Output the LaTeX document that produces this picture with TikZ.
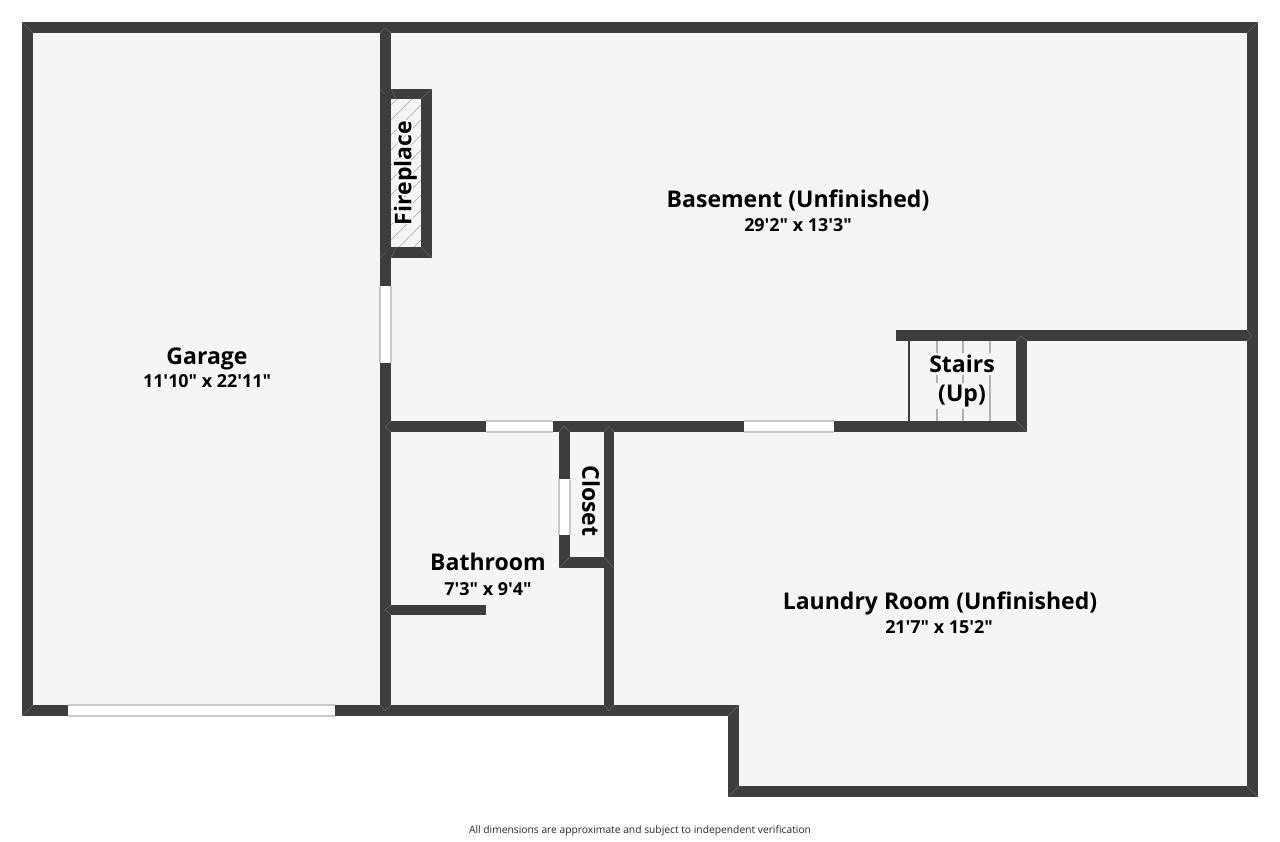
\documentclass[tikz,border=0pt]{standalone}
\usepackage{fontspec}
\usepackage{contour}
\contourlength{0.7pt}
\newfontfamily\planfont{Open Sans}
\definecolor{wallgray}{HTML}{3D3D3D}
\definecolor{seamgray}{HTML}{666666}
\definecolor{floorgray}{HTML}{F5F5F5}
\definecolor{edgegray}{HTML}{C8C8C8}
\tikzset{
  wall/.style={fill=wallgray},
  pane/.style={fill=white},
  paneedge/.style={edgegray, line width=0.7pt},
  seam/.style={seamgray, line width=0.3pt},
  roomname/.style={font=\planfont\bfseries\fontsize{13.1}{16}\selectfont, text=black},
  roomsize/.style={font=\planfont\bfseries\fontsize{10.2}{12}\selectfont, text=black},
}
\begin{document}
\begin{tikzpicture}[x=0.02cm, y=-0.02cm]
        \useasboundingbox (0,0) rectangle (1280,841);
        % Shade the floor
        \fill [floorgray] (22,22) -- (1258,22) -- (1258,797) -- (728,797) -- (728,716) -- (22,716) -- cycle;
        % Hatch of the fireplace
        \begin{scope}
            \clip (391,99) rectangle (421,247);
            \foreach \y in {105,120,...,285}
                \draw [gray!70, line width=0.35pt] (391,\y) -- (421,\y-30);
        \end{scope}
        % Stair treads
        \draw [gray!60, line width=0.9pt] (937,341) -- (937,421);
        \draw [gray!60, line width=0.9pt] (963,341) -- (963,421);
        \draw [gray!60, line width=0.9pt] (990,341) -- (990,421);
        \draw [wallgray, line width=0.9pt] (909,341) -- (909,421);
        % Outer walls
        \fill [wall] (22,22) rectangle (1258,33);
        \fill [wall] (22,22) rectangle (33,716);
        \fill [wall] (1247,22) rectangle (1258,797);
        \fill [wall] (22,705) rectangle (739,716);
        \fill [wall] (728,705) rectangle (739,797);
        \fill [wall] (728,786) rectangle (1258,797);
        % Inner walls
        \fill [wall] (380,22) rectangle (391,716);
        \fill [wall] (385,421) rectangle (1027,432);
        \fill [wall] (896,330) rectangle (1258,341);
        \fill [wall] (1016,330) rectangle (1027,432);
        \fill [wall] (559,421) rectangle (570,568);
        \fill [wall] (559,557) rectangle (614,568);
        \fill [wall] (604,421) rectangle (614,716);
        \fill [wall] (385,605) rectangle (486,615);
        % Fireplace walls
        \fill [wall] (385,89) rectangle (432,99);
        \fill [wall] (385,247) rectangle (432,258);
        \fill [wall] (421,89) rectangle (432,258);
        % Windows
        \foreach \xa/\ya/\xb/\yb in {68/705/335/716, 486/421/553/432, 744/421/834/432}{
            \fill [pane] (\xa,\ya) rectangle (\xb,\yb);
            \draw [paneedge] (\xa,\ya) -- (\xb,\ya);
            \draw [paneedge] (\xa,\yb) -- (\xb,\yb);
        }
        \foreach \xa/\ya/\xb/\yb in {380/286/391/363, 559/479/570/535}{
            \fill [pane] (\xa,\ya) rectangle (\xb,\yb);
            \draw [paneedge] (\xa,\ya) -- (\xa,\yb);
            \draw [paneedge] (\xb,\ya) -- (\xb,\yb);
        }
        % Corner seams
        \foreach \xa/\ya/\xb/\yb in {22/22/33/33, 1258/22/1247/33, 22/716/33/705, 1258/797/1247/786, 728/797/739/786, 739/705/728/716,
            380/33/385/28, 391/33/385/28, 380/705/385/711, 391/705/385/711, 391/421/385/427, 391/432/385/427, 604/705/609/711, 614/705/609/711,
            559/432/564/426, 570/432/564/426, 604/432/609/426, 614/432/609/426, 1016/341/1021/336, 1027/341/1021/336, 1016/421/1027/432,
            1247/330/1252/336, 1247/341/1252/336, 559/568/570/557, 604/557/614/568, 391/89/396/99, 391/258/396/247, 432/89/421/99, 432/258/421/247,
            380/89/385/94, 380/258/385/253, 391/605/385/610, 391/615/385/610}
            \draw [seam] (\xa,\ya) -- (\xb,\yb);
        % Labels
        \node [roomname] (garage) at (207,359) {Garage};
        \node [roomsize] (garagesize) at (207,381) {11'10" x 22'11"};
        \node [roomname] (basement) at (798,200.5) {Basement (Unfinished)};
        \node [roomsize] (basementsize) at (798,225) {29'2" x 13'3"};
        \node [roomname, fill=floorgray, inner sep=1pt] (stairs) at (962,364) {Stairs};
        \node [roomname, fill=floorgray, inner sep=1pt] (stairsup) at (962,396) {(Up)};
        \node [roomname] (bathroom) at (488,562) {Bathroom};
        \node [roomsize] (bathroomsize) at (488,589) {7'3" x 9'4"};
        \node [roomname] (laundry) at (940,603) {Laundry Room (Unfinished)};
        \node [roomsize] (laundrysize) at (939,627) {21'7" x 15'2"};
        \node [roomname, rotate=-90] (closet) at (591,501) {Closet};
        \node [roomname, rotate=90] (fireplace) at (406,173) {\contour{white}{Fireplace}};
        \node [font=\planfont\fontsize{5.85}{8}\selectfont, text=black!85] (disclaimer) at (640,831) {All dimensions are approximate and subject to independent verification};
    \end{tikzpicture}
\end{document}
